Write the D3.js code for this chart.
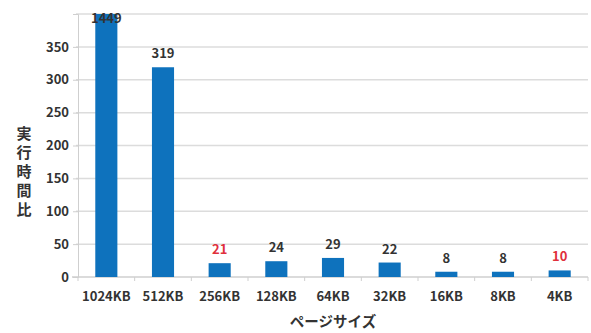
<!DOCTYPE html>
<html>
<head>
<meta charset="utf-8">
<script src="https://cdn.jsdelivr.net/npm/d3@7"></script>
<style>
  body { margin: 0; background: #fff; }
  svg { display: block; }
  text { font-family: "Noto Sans CJK JP", "Open Sans", sans-serif; }
</style>
</head>
<body>
<div id="chart"></div>
<script>
var pageSizes = ["1024KB", "512KB", "256KB", "128KB", "64KB", "32KB", "16KB", "8KB", "4KB"]
var ratios = [1449, 319, 21, 24, 29, 22, 8, 8, 10]
var redLabels = ["256KB", "4KB"]
var yTicks = [0, 50, 100, 150, 200, 250, 300, 350]
var yMax = 400

var width = 591, height = 333
var margin = { top: 14, right: 3, bottom: 56, left: 78 }
var innerW = width - margin.left - margin.right,
    innerH = height - margin.top - margin.bottom

var svg = d3.select("#chart").append("svg")
  .attr("width", width)
  .attr("height", height)

var g = svg.append("g")
  .attr("transform", "translate(" + margin.left + "," + margin.top + ")")

var x = d3.scaleBand().domain(pageSizes).range([0, innerW])
  .paddingInner(0.61).paddingOuter(0.305)
var y = d3.scaleLinear().domain([0, yMax]).range([innerH, 0])

// gridlines
g.append("g").selectAll("line").data(yTicks.concat([yMax]).filter(d => d > 0))
  .enter().append("line")
  .attr("x1", -2).attr("x2", innerW)
  .attr("y1", d => y(d)).attr("y2", d => y(d))
  .style("stroke", "#dcdcdc").style("stroke-width", 1.5)

// y axis
var yAxis = g.append("g")
  .call(d3.axisLeft(y).tickValues(yTicks).tickSize(5).tickPadding(4))
yAxis.select(".domain").style("stroke", "#cfcfcf")
yAxis.selectAll(".tick line").style("stroke", "#cfcfcf")
yAxis.selectAll(".tick text")
  .style("fill", "#333").style("font-size", "13px").style("font-weight", "bold")

// x axis
var xAxis = g.append("g")
  .attr("transform", "translate(0," + innerH + ")")
  .call(d3.axisBottom(x).tickSize(0).tickPadding(15))
xAxis.select(".domain").remove()
xAxis.selectAll(".tick text")
  .style("fill", "#333").style("font-size", "13px").style("font-weight", "bold")

g.append("line")
  .attr("x1", -6).attr("x2", innerW)
  .attr("y1", innerH).attr("y2", innerH)
  .style("stroke", "#cfcfcf").style("stroke-width", 1.5)

// small separators between categories
g.append("g").selectAll("line").data(d3.range(pageSizes.length + 1))
  .enter().append("line")
  .attr("x1", i => i * x.step()).attr("x2", i => i * x.step())
  .attr("y1", innerH).attr("y2", innerH + 4)
  .style("stroke", "#cfcfcf")

// bars (clipped at the top of the axis)
g.append("g").selectAll("rect").data(ratios)
  .enter().append("rect")
  .attr("x", (d, i) => x(pageSizes[i]))
  .attr("y", d => y(Math.min(d, yMax)))
  .attr("width", x.bandwidth())
  .attr("height", d => innerH - y(Math.min(d, yMax)))
  .style("fill", "#0e72bd")

// value labels
g.append("g").selectAll("text").data(ratios)
  .enter().append("text")
  .attr("x", (d, i) => x(pageSizes[i]) + x.bandwidth() / 2)
  .attr("y", d => d > yMax ? y(yMax) + 9 : y(d) - 9)
  .attr("text-anchor", "middle")
  .style("font-size", "13px")
  .style("font-weight", "bold")
  .style("fill", (d, i) => redLabels.indexOf(pageSizes[i]) >= 0 ? "#e0303c" : "#333")
  .text(d => d)

// y title, stacked vertically
var yTitle = "実行時間比".split("")
svg.append("g").selectAll("text").data(yTitle)
  .enter().append("text")
  .attr("x", 24)
  .attr("y", (d, i) => 139 + i * 19)
  .attr("text-anchor", "middle")
  .style("font-size", "15px")
  .style("font-weight", "bold")
  .style("fill", "#333")
  .text(d => d)

// x title
svg.append("text")
  .attr("x", 333)
  .attr("y", 327)
  .attr("text-anchor", "middle")
  .style("font-size", "14.5px")
  .style("font-weight", "bold")
  .style("fill", "#333")
  .text("ページサイズ")
</script>
</body>
</html>
